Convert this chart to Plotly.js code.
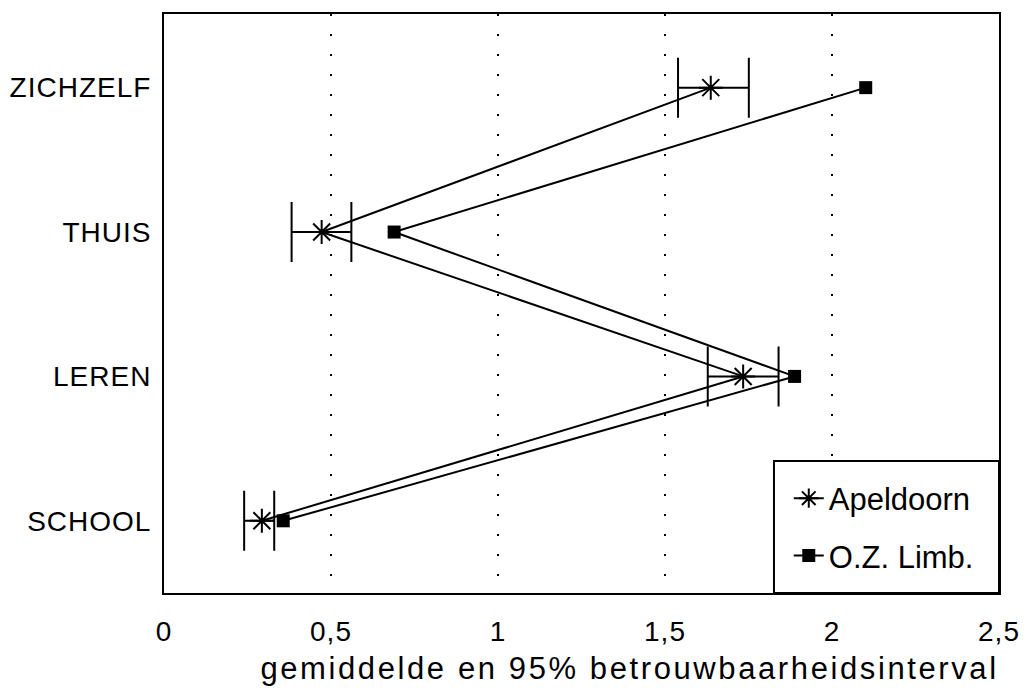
<!DOCTYPE html>
<html>
<head>
<meta charset="utf-8">
<script src="https://cdn.plot.ly/plotly-3.0.1.min.js"></script>
<style>
html,body{margin:0;padding:0;background:#fff;}
#chart{width:1026px;height:696px;}
#chart g.xtick text, #chart g.ytick text{letter-spacing:1px;}
#chart .annotation-text{letter-spacing:2.6px;}
</style>
</head>
<body>
<div id="chart"></div>
<script>
// Data
const categories = ['ZICHZELF', 'THUIS', 'LEREN', 'SCHOOL'];
const categoryOrder = ['SCHOOL', 'LEREN', 'THUIS', 'ZICHZELF'];
const apeldoornMean = [1.637, 0.472, 1.734, 0.293];
const apeldoornLow  = [1.539, 0.382, 1.628, 0.240];
const apeldoornHigh = [1.751, 0.561, 1.840, 0.330];
const limbMean = [2.101, 0.689, 1.888, 0.357];
const seriesNames = ['Apeldoorn', 'O.Z. Limb.'];
const xTicks = [0, 0.5, 1, 1.5, 2, 2.5];
const xTitle = 'gemiddelde en 95% betrouwbaarheidsinterval';

const FONT = 'Liberation Sans, Arial, Helvetica, sans-serif';

const errPlus = apeldoornHigh.map((h, i) => h - apeldoornMean[i]);
const errMinus = apeldoornLow.map((l, i) => apeldoornMean[i] - l);

const traces = [
  {
    type: 'scatter',
    mode: 'lines+markers',
    name: seriesNames[0],
    legendgroup: 'a',
    x: apeldoornMean,
    y: categories,
    line: {color: '#000', width: 2},
    marker: {symbol: 'asterisk-open', size: 20, color: '#000', line: {color: '#000', width: 2}},
    error_x: {type: 'data', symmetric: false, array: errPlus, arrayminus: errMinus,
              color: '#000', thickness: 2, width: 30}
  },
  {
    type: 'scatter',
    mode: 'lines+markers',
    name: seriesNames[1],
    legendgroup: 'b',
    x: limbMean,
    y: categories,
    line: {color: '#000', width: 2},
    marker: {symbol: 'square', size: 13, color: '#000'}
  }
];

const layout = {
  width: 1026,
  height: 696,
  paper_bgcolor: '#fff',
  plot_bgcolor: '#fff',
  separators: ',.',
  font: {family: FONT, size: 28, color: '#000'},
  margin: {l: 164, r: 27, t: 14, b: 103},
  showlegend: true,
  legend: {
    x: 0.862, y: 0.114, xanchor: 'center', yanchor: 'middle',
    bgcolor: 'rgba(0,0,0,0)', borderwidth: 0,
    font: {family: FONT, size: 31, color: '#000'},
    itemwidth: 30,
    tracegroupgap: 14
  },
  shapes: [
    {type: 'rect', xref: 'paper', yref: 'paper', x0: 0.7305, x1: 1, y0: 0, y1: 0.228,
     fillcolor: '#fff', line: {color: '#000', width: 2}, layer: 'above'}
  ],
  annotations: [
    {text: xTitle, xref: 'paper', yref: 'paper', x: 0.558, y: -0.13,
     xanchor: 'center', yanchor: 'middle', showarrow: false,
     font: {family: FONT, size: 31, color: '#000'}}
  ],
  xaxis: {
    range: [0, 2.5],
    tickvals: xTicks,
    showgrid: true,
    gridcolor: '#000',
    gridwidth: 2,
    griddash: '2px,18px',
    zeroline: false,
    showline: true, mirror: true, linecolor: '#000', linewidth: 2,
    ticks: 'outside', ticklen: 12, tickcolor: 'rgba(0,0,0,0)',
    tickfont: {family: FONT, size: 28, color: '#000'}
  },
  yaxis: {
    type: 'category',
    categoryorder: 'array',
    categoryarray: categoryOrder,
    range: [-0.5, 3.51],
    showgrid: false,
    zeroline: false,
    showline: true, mirror: true, linecolor: '#000', linewidth: 2,
    ticks: 'outside', ticklen: 5, tickcolor: 'rgba(0,0,0,0)',
    tickfont: {family: FONT, size: 28, color: '#000'}
  }
};

Plotly.newPlot('chart', traces, layout, {displayModeBar: false, staticPlot: true});
</script>
</body>
</html>
